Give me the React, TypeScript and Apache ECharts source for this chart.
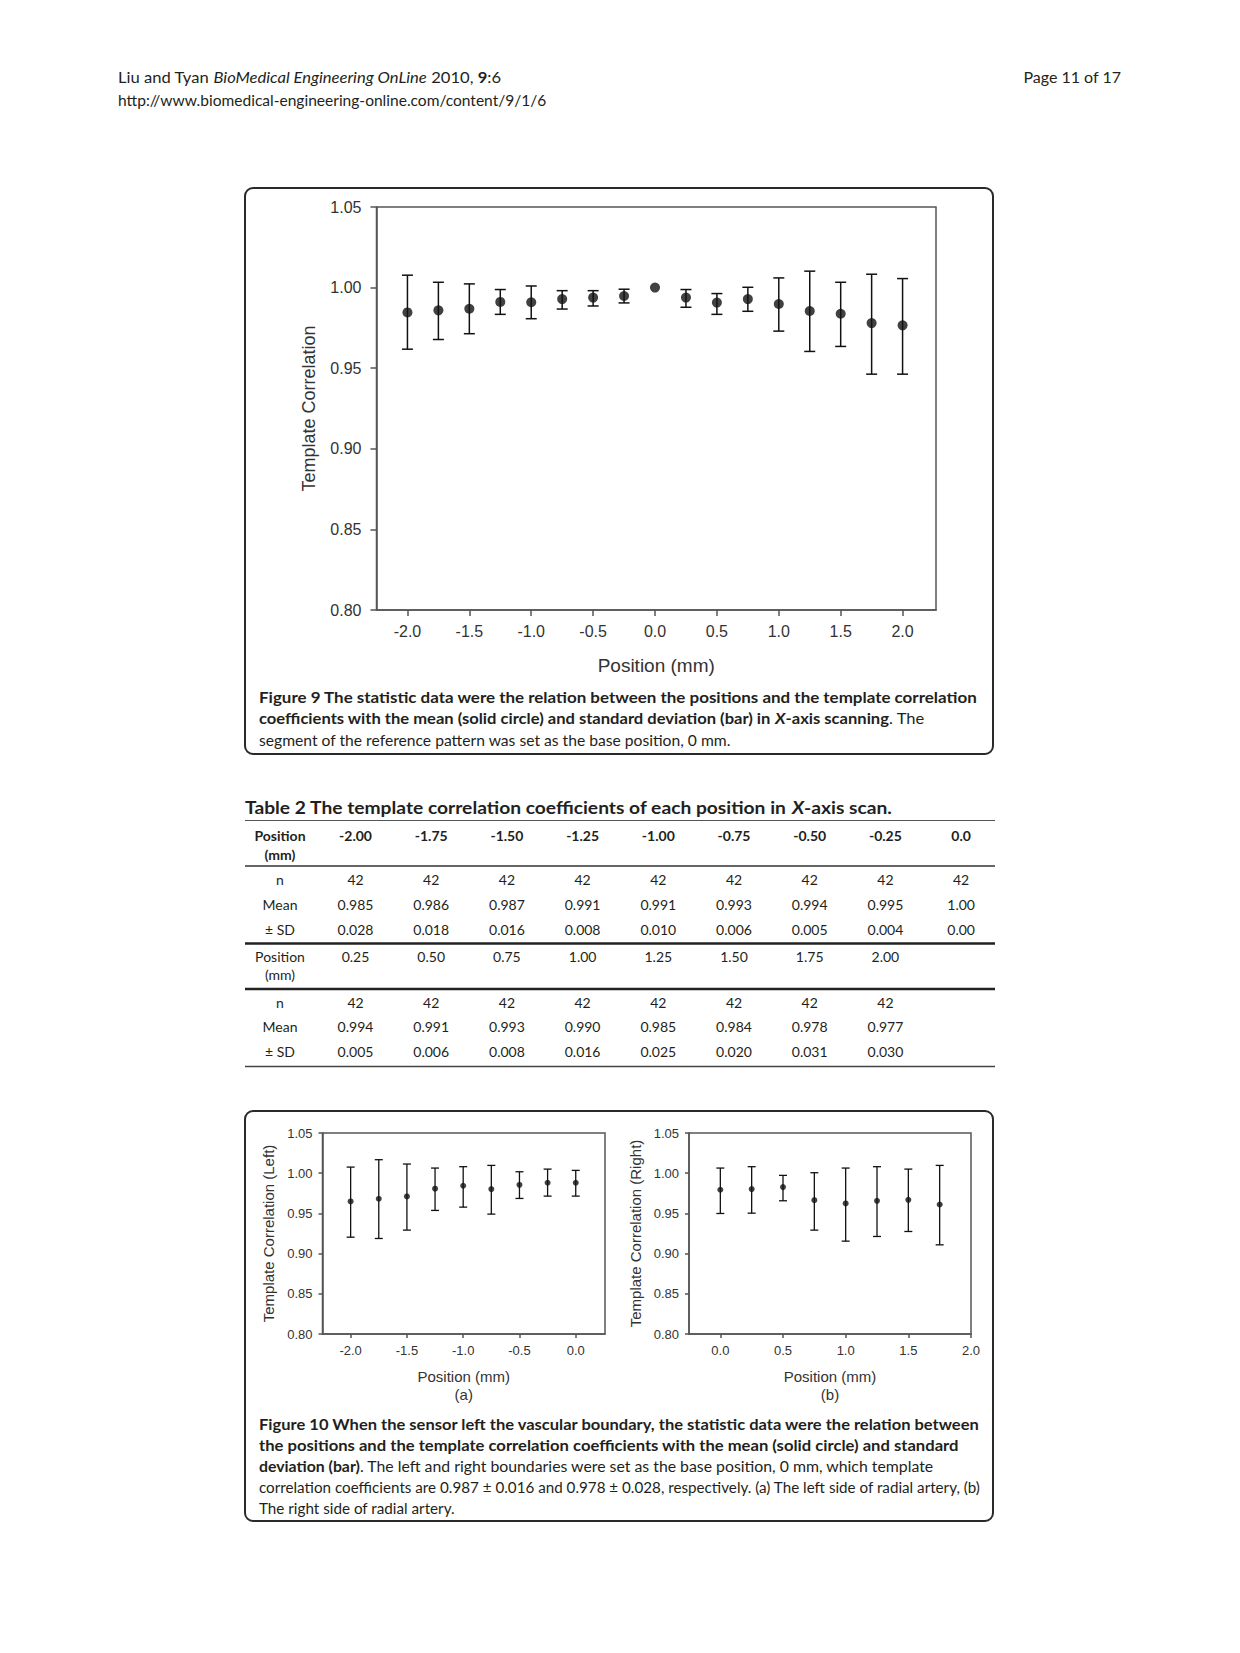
import React, { useEffect, useRef } from "react";
import * as echarts from "echarts";

// ---------------- DATA ----------------
// Figure 9 (X-axis scanning)
const fig9Pos = [-2, -1.75, -1.5, -1.25, -1, -0.75, -0.5, -0.25, 0, 0.25, 0.5, 0.75, 1, 1.25, 1.5, 1.75, 2];
const fig9Mean = [0.9846, 0.9859, 0.9869, 0.9911, 0.9909, 0.9929, 0.9938, 0.9948, 1.0, 0.9938, 0.9907, 0.9929, 0.9898, 0.9855, 0.9838, 0.978, 0.9766];
const fig9Upper = [1.0077, 1.0033, 1.0023, 0.9988, 1.001, 0.9981, 0.9981, 0.999, null, 0.9988, 0.9963, 1.0002, 1.006, 1.0102, 1.0033, 1.0083, 1.0056];
const fig9Lower = [0.9618, 0.9678, 0.9714, 0.9834, 0.9807, 0.9867, 0.9886, 0.9905, null, 0.9878, 0.9834, 0.9853, 0.973, 0.9604, 0.9635, 0.9463, 0.9463];
const fig9XTicks = [-2, -1.5, -1, -0.5, 0, 0.5, 1, 1.5, 2];

// Figure 10 (a) left side
const fig10LPos = [-2, -1.75, -1.5, -1.25, -1, -0.75, -0.5, -0.25, 0];
const fig10LMean = [0.9649, 0.9682, 0.9711, 0.9807, 0.9844, 0.9802, 0.9856, 0.9881, 0.9881];
const fig10LUpper = [1.0076, 1.0168, 1.0114, 1.0064, 1.0081, 1.0097, 1.0018, 1.0051, 1.0035];
const fig10LLower = [0.9204, 0.9188, 0.9292, 0.9537, 0.9578, 0.9491, 0.9686, 0.9715, 0.9715];
const fig10LXTicks = [-2, -1.5, -1, -0.5, 0];

// Figure 10 (b) right side
const fig10RPos = [0, 0.25, 0.5, 0.75, 1, 1.25, 1.5, 1.75];
const fig10RMean = [0.9794, 0.9802, 0.9827, 0.9665, 0.9624, 0.9657, 0.9669, 0.9611];
const fig10RUpper = [1.0064, 1.0081, 0.9973, 1.0006, 1.0064, 1.0081, 1.0051, 1.0097];
const fig10RLower = [0.9499, 0.9503, 0.9657, 0.9292, 0.9155, 0.9213, 0.9275, 0.9109];
const fig10RXTicks = [0, 0.5, 1, 1.5, 2];

const yTicks = [0.8, 0.85, 0.9, 0.95, 1.0, 1.05];

// Table 2
const tablePos1 = ["-2.00", "-1.75", "-1.50", "-1.25", "-1.00", "-0.75", "-0.50", "-0.25", "0.0"];
const tableN1 = ["42", "42", "42", "42", "42", "42", "42", "42", "42"];
const tableMean1 = ["0.985", "0.986", "0.987", "0.991", "0.991", "0.993", "0.994", "0.995", "1.00"];
const tableSD1 = ["0.028", "0.018", "0.016", "0.008", "0.010", "0.006", "0.005", "0.004", "0.00"];
const tablePos2 = ["0.25", "0.50", "0.75", "1.00", "1.25", "1.50", "1.75", "2.00"];
const tableN2 = ["42", "42", "42", "42", "42", "42", "42", "42"];
const tableMean2 = ["0.994", "0.991", "0.993", "0.990", "0.985", "0.984", "0.978", "0.977"];
const tableSD2 = ["0.005", "0.006", "0.008", "0.016", "0.025", "0.020", "0.031", "0.030"];

// ---------------- HELPERS ----------------
const FONT = "Lato";
const AXIS_FONT = "'Liberation Sans', Arial, Helvetica, sans-serif";
const TEXT_COLOR = "#231f20";
const AXIS_COLOR = "#555";
const MARK_COLOR = "#111";

type Seg = { t: string; b?: boolean; i?: boolean };

let measureCtx: CanvasRenderingContext2D | null = null;
function measure(text: string, size: number, bold?: boolean, italic?: boolean) {
  if (!measureCtx) measureCtx = document.createElement("canvas").getContext("2d");
  measureCtx!.font = `${italic ? "italic " : ""}${bold ? "bold " : ""}${size}px ${FONT}`;
  return measureCtx!.measureText(text).width;
}

function richLine(segs: Seg[], x: number, y: number, size: number, target?: number, align: string = "left") {
  const rich: any = {};
  let text = "";
  let w = 0;
  segs.forEach((s) => {
    const key = (s.b ? "b" : "n") + (s.i ? "i" : "r");
    rich[key] = {
      fontFamily: FONT,
      fontSize: size,
      fontWeight: s.b ? "bold" : "normal",
      fontStyle: s.i ? "italic" : "normal",
      fill: TEXT_COLOR,
    };
    text += `{${key}|${s.t}}`;
    w += measure(s.t, size, s.b, s.i);
  });
  const scaleX = target && w > 0 ? target / w : 1;
  return {
    type: "text",
    x,
    y,
    scaleX,
    silent: true,
    style: { text, rich, align, verticalAlign: "middle", fontFamily: FONT, fontSize: size, fill: TEXT_COLOR },
  };
}

function cell(text: string, x: number, y: number, bold = false) {
  return {
    type: "text",
    x,
    y,
    silent: true,
    style: {
      text,
      fontFamily: FONT,
      fontSize: 14,
      fontWeight: bold ? "bold" : "normal",
      fill: TEXT_COLOR,
      align: "center",
      verticalAlign: "middle",
    },
  };
}

function hline(y: number, width: number, color: string) {
  return {
    type: "line",
    silent: true,
    shape: { x1: 245, y1: y, x2: 995, y2: y },
    style: { stroke: color, lineWidth: width },
  };
}

function errorSeries(idx: number, pos: number[], upper: (number | null)[], lower: (number | null)[], capW: number, lw: number) {
  const data: number[][] = [];
  pos.forEach((p, i) => {
    if (upper[i] != null && lower[i] != null) data.push([p, lower[i] as number, upper[i] as number]);
  });
  return {
    type: "custom",
    xAxisIndex: idx,
    yAxisIndex: idx,
    silent: true,
    z: 2,
    encode: { x: 0, y: [1, 2] },
    data,
    renderItem: (params: any, api: any) => {
      const x = api.value(0);
      const lo = api.coord([x, api.value(1)]);
      const hi = api.coord([x, api.value(2)]);
      const st = { stroke: MARK_COLOR, lineWidth: lw };
      return {
        type: "group",
        children: [
          { type: "line", shape: { x1: hi[0], y1: hi[1], x2: lo[0], y2: lo[1] }, style: st },
          { type: "line", shape: { x1: hi[0] - capW / 2, y1: hi[1], x2: hi[0] + capW / 2, y2: hi[1] }, style: st },
          { type: "line", shape: { x1: lo[0] - capW / 2, y1: lo[1], x2: lo[0] + capW / 2, y2: lo[1] }, style: st },
        ],
      };
    },
  };
}

function meanSeries(idx: number, pos: number[], mean: number[], size: number) {
  return {
    type: "scatter",
    xAxisIndex: idx,
    yAxisIndex: idx,
    silent: true,
    z: 3,
    symbol: "circle",
    symbolSize: size,
    itemStyle: { color: MARK_COLOR },
    data: pos.map((p, i) => [p, mean[i]]),
  };
}

function xAxisDef(gi: number, min: number, max: number, ticks: number[], fs: number, name: string, nameGap: number, nameSize: number, margin: number, tickLen: number) {
  return {
    type: "value",
    gridIndex: gi,
    min,
    max,
    name,
    nameLocation: "middle",
    nameGap,
    nameTextStyle: { fontFamily: AXIS_FONT, fontSize: nameSize, color: "#333", lineHeight: nameSize * 1.22 },
    axisLine: { show: true, onZero: false, lineStyle: { color: AXIS_COLOR, width: 1.5 } },
    axisTick: { show: true, customValues: ticks, length: tickLen, lineStyle: { color: AXIS_COLOR, width: 1.5 } },
    axisLabel: {
      customValues: ticks,
      formatter: (v: number) => v.toFixed(1),
      fontFamily: AXIS_FONT,
      fontSize: fs,
      color: "#333",
      margin,
    },
    splitLine: { show: false },
  };
}

function yAxisDef(gi: number, fs: number, name: string, nameGap: number, nameSize: number, margin: number, tickLen: number) {
  return {
    type: "value",
    gridIndex: gi,
    min: 0.8,
    max: 1.05,
    name,
    nameLocation: "middle",
    nameGap,
    nameTextStyle: { fontFamily: AXIS_FONT, fontSize: nameSize, color: "#333" },
    axisLine: { show: true, onZero: false, lineStyle: { color: AXIS_COLOR, width: 1.5 } },
    axisTick: { show: true, customValues: yTicks, length: tickLen, lineStyle: { color: AXIS_COLOR, width: 1.5 } },
    axisLabel: {
      customValues: yTicks,
      formatter: (v: number) => v.toFixed(2),
      fontFamily: AXIS_FONT,
      fontSize: fs,
      color: "#333",
      margin,
    },
    splitLine: { show: false },
  };
}

function buildGraphic() {
  const g: any[] = [];
  // page header
  g.push(
    richLine(
      [{ t: "Liu and Tyan " }, { t: "BioMedical Engineering OnLine", i: true }, { t: " 2010, " }, { t: "9", b: true }, { t: ":6" }],
      118, 77, 14.5, 383
    )
  );
  g.push(richLine([{ t: "http://www.biomedical-engineering-online.com/content/9/1/6" }], 118, 100, 14.5, 429));
  g.push(richLine([{ t: "Page 11 of 17" }], 1121, 77, 14.5, 98, "right"));

  // figure boxes
  g.push({ type: "rect", silent: true, shape: { x: 245, y: 188, width: 748, height: 566, r: 8 }, style: { fill: "none", stroke: "#2a2a2a", lineWidth: 2 } });
  g.push({ type: "rect", silent: true, shape: { x: 245, y: 1111, width: 748, height: 410, r: 8 }, style: { fill: "none", stroke: "#2a2a2a", lineWidth: 2 } });

  // Figure 9 caption
  g.push(richLine([{ t: "Figure 9 The statistic data were the relation between the positions and the template correlation", b: true }], 259, 697, 15, 719));
  g.push(
    richLine(
      [
        { t: "coefficients with the mean (solid circle) and standard deviation (bar) in ", b: true },
        { t: "X", b: true, i: true },
        { t: "-axis scanning", b: true },
        { t: ". The" },
      ],
      259, 718, 15, 666
    )
  );
  g.push(richLine([{ t: "segment of the reference pattern was set as the base position, 0 mm." }], 259, 740, 15, 472));

  // Figure 10 caption
  g.push(richLine([{ t: "Figure 10 When the sensor left the vascular boundary, the statistic data were the relation between", b: true }], 259, 1424, 15, 722));
  g.push(richLine([{ t: "the positions and the template correlation coefficients with the mean (solid circle) and standard", b: true }], 259, 1445, 15, 700));
  g.push(
    richLine(
      [{ t: "deviation (bar)", b: true }, { t: ". The left and right boundaries were set as the base position, 0 mm, which template" }],
      259, 1466, 15, 676
    )
  );
  g.push(
    richLine(
      [{ t: "correlation coefficients are 0.987 \u00b1 0.016 and 0.978 \u00b1 0.028, respectively. (a) The left side of radial artery, (b)" }],
      259, 1487, 15, 722
    )
  );
  g.push(richLine([{ t: "The right side of radial artery." }], 259, 1508, 15, 196));

  // Table 2
  g.push(
    richLine(
      [
        { t: "Table 2 The template correlation coefficients of each position in ", b: true },
        { t: "X", b: true, i: true },
        { t: "-axis scan.", b: true },
      ],
      245, 808, 16.5, 647
    )
  );
  g.push(hline(820.5, 1, "#555"));
  g.push(hline(866, 1.5, "#333"));
  g.push(hline(943.5, 2.5, "#222"));
  g.push(hline(989, 2.5, "#222"));
  g.push(hline(1066.5, 1.5, "#444"));

  const labelX = 280;
  const colX = (i: number) => 355.5 + i * 75.7;
  // section 1
  g.push(cell("Position", labelX, 835, true));
  g.push(cell("(mm)", labelX, 854, true));
  tablePos1.forEach((t, i) => g.push(cell(t, colX(i), 835, true)));
  g.push(cell("n", labelX, 879));
  tableN1.forEach((t, i) => g.push(cell(t, colX(i), 879)));
  g.push(cell("Mean", labelX, 904));
  tableMean1.forEach((t, i) => g.push(cell(t, colX(i), 904)));
  g.push(cell("\u00b1 SD", labelX, 929));
  tableSD1.forEach((t, i) => g.push(cell(t, colX(i), 929)));
  // section 2
  g.push(cell("Position", labelX, 956));
  g.push(cell("(mm)", labelX, 974));
  tablePos2.forEach((t, i) => g.push(cell(t, colX(i), 956)));
  g.push(cell("n", labelX, 1002));
  tableN2.forEach((t, i) => g.push(cell(t, colX(i), 1002)));
  g.push(cell("Mean", labelX, 1026));
  tableMean2.forEach((t, i) => g.push(cell(t, colX(i), 1026)));
  g.push(cell("\u00b1 SD", labelX, 1051));
  tableSD2.forEach((t, i) => g.push(cell(t, colX(i), 1051)));
  return g;
}

export default function App() {
  const ref = useRef<HTMLDivElement>(null);
  useEffect(() => {
    if (!ref.current) return;
    const chart = echarts.init(ref.current, null, { renderer: "svg" });
    const gridStyle = { show: true, borderColor: AXIS_COLOR, borderWidth: 1.5, backgroundColor: "transparent" };
    chart.setOption({
      animation: false,
      backgroundColor: "#ffffff",
      tooltip: { show: false },
      grid: [
        { left: 376.5, top: 207, width: 559.5, height: 403, ...gridStyle },
        { left: 322.5, top: 1133, width: 282.5, height: 201, ...gridStyle },
        { left: 689, top: 1133, width: 282, height: 201, ...gridStyle },
      ],
      xAxis: [
        xAxisDef(0, -2.25, 2.27, fig9XTicks, 16, "Position (mm)", 44, 19, 13, 6),
        xAxisDef(1, -2.25, 0.26, fig10LXTicks, 13, "Position (mm)\n(a)", 33, 15, 10, 4),
        xAxisDef(2, -0.25, 2.0, fig10RXTicks, 13, "Position (mm)\n(b)", 33, 15, 10, 4),
      ],
      yAxis: [
        yAxisDef(0, 16, "Template Correlation", 59, 18, 15, 6),
        yAxisDef(1, 13, "Template Correlation (Left)", 47, 15, 10, 4),
        yAxisDef(2, 13, "Template Correlation (Right)", 46, 15, 10, 4),
      ],
      series: [
        errorSeries(0, fig9Pos, fig9Upper, fig9Lower, 11, 1.5),
        meanSeries(0, fig9Pos, fig9Mean, 10),
        errorSeries(1, fig10LPos, fig10LUpper, fig10LLower, 8, 1.3),
        meanSeries(1, fig10LPos, fig10LMean, 6),
        errorSeries(2, fig10RPos, fig10RUpper, fig10RLower, 8, 1.3),
        meanSeries(2, fig10RPos, fig10RMean, 6),
      ],
      graphic: buildGraphic(),
    });
    return () => chart.dispose();
  }, []);
  return (
    <div
      ref={ref}
      style={{ position: "absolute", left: 0, top: 0, width: 1240, height: 1653, background: "#fff" }}
    />
  );
}
